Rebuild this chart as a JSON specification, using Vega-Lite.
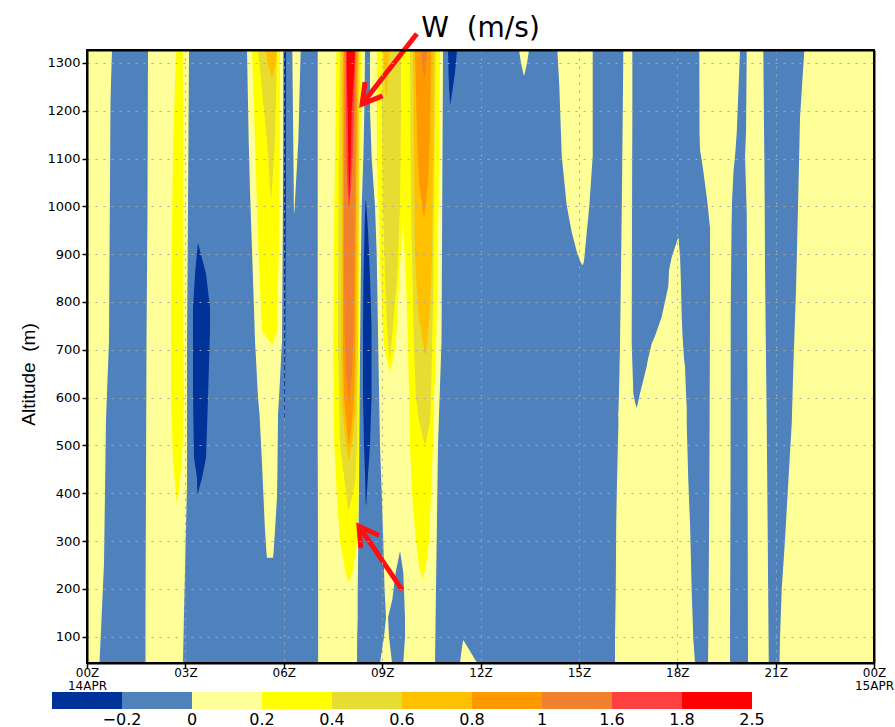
{
"$schema": "https://vega.github.io/schema/vega-lite/v6.json",
"background": "white",
"padding": {"left": 18, "top": 13, "right": 0, "bottom": 0},
"spacing": -19,
"config": {"font": "DejaVu Sans", "axis": {"labelColor": "black", "tickColor": "black", "domainColor": "black", "titleColor": "black"}},
"datasets": {
"field": [
{"r":"A","lev":3,"alt":1327,"x1":0,"x2":0.762},{"r":"A","lev":3,"alt":1221,"x1":0,"x2":0.717},{"r":"A","lev":3,"alt":719,"x1":0,"x2":0.671},{"r":"A","lev":3,"alt":552,"x1":0,"x2":0.579},{"r":"A","lev":3,"alt":253,"x1":0,"x2":0.518},{"r":"A","lev":3,"alt":113,"x1":0,"x2":0.427},{"r":"A","lev":3,"alt":45,"x1":0,"x2":0.381},
{"r":"B","lev":3,"alt":1327,"x1":1.860,"x2":3.111},{"r":"B","lev":3,"alt":1000,"x1":1.845,"x2":3.080},{"r":"B","lev":3,"alt":719,"x1":1.815,"x2":3.050},{"r":"B","lev":3,"alt":420,"x1":1.799,"x2":3.050},{"r":"B","lev":3,"alt":150,"x1":1.784,"x2":2.958},{"r":"B","lev":3,"alt":45,"x1":1.784,"x2":2.928},
{"r":"B4","lev":4,"alt":1327,"x1":2.714,"x2":2.928},{"r":"B4","lev":4,"alt":1116,"x1":2.623,"x2":2.928},{"r":"B4","lev":4,"alt":802,"x1":2.562,"x2":2.928},{"r":"B4","lev":4,"alt":593,"x1":2.562,"x2":2.958},{"r":"B4","lev":4,"alt":468,"x1":2.623,"x2":2.897},{"r":"B4","lev":4,"alt":378,"x1":2.739,"x2":2.751},
{"r":"C","lev":1,"alt":922,"x1":3.379,"x2":3.391},{"r":"C","lev":1,"alt":859,"x1":3.294,"x2":3.629},{"r":"C","lev":1,"alt":788,"x1":3.233,"x2":3.751},{"r":"C","lev":1,"alt":740,"x1":3.233,"x2":3.751},{"r":"C","lev":1,"alt":600,"x1":3.233,"x2":3.690},{"r":"C","lev":1,"alt":474,"x1":3.263,"x2":3.629},{"r":"C","lev":1,"alt":432,"x1":3.355,"x2":3.507},{"r":"C","lev":1,"alt":399,"x1":3.364,"x2":3.376},
{"r":"D3","lev":3,"alt":1327,"x1":4.880,"x2":6.008},{"r":"D3","lev":3,"alt":1137,"x1":4.931,"x2":5.993},{"r":"D3","lev":3,"alt":1032,"x1":4.971,"x2":5.978},{"r":"D3","lev":3,"alt":928,"x1":5.023,"x2":5.968},{"r":"D3","lev":3,"alt":719,"x1":5.124,"x2":5.947},{"r":"D3","lev":3,"alt":600,"x1":5.215,"x2":5.856},{"r":"D3","lev":3,"alt":566,"x1":5.261,"x2":5.825},{"r":"D3","lev":3,"alt":462,"x1":5.337,"x2":5.810},{"r":"D3","lev":3,"alt":391,"x1":5.383,"x2":5.794},{"r":"D3","lev":3,"alt":322,"x1":5.428,"x2":5.733},{"r":"D3","lev":3,"alt":275,"x1":5.474,"x2":5.688},{"r":"D3","lev":3,"alt":265,"x1":5.489,"x2":5.672},
{"r":"D4","lev":4,"alt":1327,"x1":5.032,"x2":5.886},{"r":"D4","lev":4,"alt":1137,"x1":5.124,"x2":5.877},{"r":"D4","lev":4,"alt":928,"x1":5.215,"x2":5.856},{"r":"D4","lev":4,"alt":740,"x1":5.337,"x2":5.794},{"r":"D4","lev":4,"alt":712,"x1":5.627,"x2":5.657},
{"r":"D5","lev":5,"alt":1327,"x1":5.215,"x2":5.794},{"r":"D5","lev":5,"alt":1137,"x1":5.489,"x2":5.733},{"r":"D5","lev":5,"alt":1018,"x1":5.605,"x2":5.621},
{"r":"D6","lev":6,"alt":1327,"x1":5.459,"x2":5.794},{"r":"D6","lev":6,"alt":1300,"x1":5.505,"x2":5.764},{"r":"D6","lev":6,"alt":1269,"x1":5.636,"x2":5.648},
{"r":"D1","lev":1,"alt":1327,"x1":5.993,"x2":6.069},{"r":"D1","lev":1,"alt":1032,"x1":6.002,"x2":6.063},{"r":"D1","lev":1,"alt":802,"x1":6.008,"x2":6.051},{"r":"D1","lev":1,"alt":552,"x1":6.020,"x2":6.035},
{"r":"E","lev":3,"alt":1327,"x1":6.261,"x2":6.517},{"r":"E","lev":3,"alt":1137,"x1":6.291,"x2":6.444},{"r":"E","lev":3,"alt":1050,"x1":6.303,"x2":6.374},{"r":"E","lev":3,"alt":986,"x1":6.310,"x2":6.322},
{"r":"FH","lev":3,"alt":1327,"x1":7.036,"x2":10.857},{"r":"FH","lev":3,"alt":719,"x1":7.036,"x2":10.811},{"r":"FH","lev":3,"alt":500,"x1":7.036,"x2":10.704},{"r":"FH","lev":3,"alt":200,"x1":7.048,"x2":10.643},{"r":"FH","lev":3,"alt":45,"x1":7.048,"x2":10.613},
{"r":"F4","lev":4,"alt":1327,"x1":7.609,"x2":8.371},{"r":"F4","lev":4,"alt":1000,"x1":7.542,"x2":8.326},{"r":"F4","lev":4,"alt":700,"x1":7.512,"x2":8.310},{"r":"F4","lev":4,"alt":500,"x1":7.542,"x2":8.295},{"r":"F4","lev":4,"alt":400,"x1":7.615,"x2":8.280},{"r":"F4","lev":4,"alt":300,"x1":7.716,"x2":8.234},{"r":"F4","lev":4,"alt":240,"x1":7.868,"x2":8.112},{"r":"F4","lev":4,"alt":215,"x1":7.960,"x2":7.990},
{"r":"F5","lev":5,"alt":1327,"x1":7.716,"x2":8.310},{"r":"F5","lev":5,"alt":1000,"x1":7.670,"x2":8.295},{"r":"F5","lev":5,"alt":700,"x1":7.655,"x2":8.265},{"r":"F5","lev":5,"alt":500,"x1":7.716,"x2":8.234},{"r":"F5","lev":5,"alt":420,"x1":7.868,"x2":8.173},{"r":"F5","lev":5,"alt":365,"x1":7.960,"x2":7.990},
{"r":"F6","lev":6,"alt":1327,"x1":7.777,"x2":8.280},{"r":"F6","lev":6,"alt":900,"x1":7.762,"x2":8.234},{"r":"F6","lev":6,"alt":700,"x1":7.746,"x2":8.219},{"r":"F6","lev":6,"alt":580,"x1":7.777,"x2":8.189},{"r":"F6","lev":6,"alt":520,"x1":7.868,"x2":8.112},{"r":"F6","lev":6,"alt":470,"x1":7.975,"x2":7.990},
{"r":"F7","lev":7,"alt":1327,"x1":7.822,"x2":8.249},{"r":"F7","lev":7,"alt":900,"x1":7.807,"x2":8.189},{"r":"F7","lev":7,"alt":700,"x1":7.807,"x2":8.173},{"r":"F7","lev":7,"alt":600,"x1":7.838,"x2":8.143},{"r":"F7","lev":7,"alt":550,"x1":7.899,"x2":8.082},{"r":"F7","lev":7,"alt":500,"x1":7.975,"x2":7.990},
{"r":"F8","lev":8,"alt":1327,"x1":7.853,"x2":8.219},{"r":"F8","lev":8,"alt":1100,"x1":7.838,"x2":8.173},{"r":"F8","lev":8,"alt":900,"x1":7.838,"x2":8.158},{"r":"F8","lev":8,"alt":750,"x1":7.853,"x2":8.128},{"r":"F8","lev":8,"alt":650,"x1":7.899,"x2":8.082},{"r":"F8","lev":8,"alt":590,"x1":7.975,"x2":7.990},
{"r":"F9","lev":9,"alt":1327,"x1":7.899,"x2":8.189},{"r":"F9","lev":9,"alt":1200,"x1":7.899,"x2":8.143},{"r":"F9","lev":9,"alt":1100,"x1":7.914,"x2":8.097},{"r":"F9","lev":9,"alt":1040,"x1":7.945,"x2":8.051},{"r":"F9","lev":9,"alt":1000,"x1":7.975,"x2":8.005},
{"r":"F10","lev":10,"alt":1327,"x1":7.920,"x2":8.173},{"r":"F10","lev":10,"alt":1280,"x1":7.920,"x2":8.143},{"r":"F10","lev":10,"alt":1200,"x1":7.948,"x2":8.073},{"r":"F10","lev":10,"alt":1100,"x1":7.969,"x2":8.042},{"r":"F10","lev":10,"alt":1040,"x1":7.984,"x2":8.014},{"r":"F10","lev":10,"alt":1020,"x1":7.990,"x2":7.999},
{"r":"G","lev":2,"alt":1327,"x1":8.478,"x2":8.631},{"r":"G","lev":2,"alt":1200,"x1":8.457,"x2":8.631},{"r":"G","lev":2,"alt":1100,"x1":8.426,"x2":8.682},{"r":"G","lev":2,"alt":1000,"x1":8.377,"x2":8.783},{"r":"G","lev":2,"alt":900,"x1":8.356,"x2":8.835},{"r":"G","lev":2,"alt":700,"x1":8.326,"x2":8.884},{"r":"G","lev":2,"alt":500,"x1":8.304,"x2":8.936},{"r":"G","lev":2,"alt":400,"x1":8.295,"x2":8.988},{"r":"G","lev":2,"alt":300,"x1":8.274,"x2":9.036},{"r":"G","lev":2,"alt":200,"x1":8.256,"x2":9.073},{"r":"G","lev":2,"alt":140,"x1":8.256,"x2":9.119},{"r":"G","lev":2,"alt":100,"x1":8.240,"x2":9.058},{"r":"G","lev":2,"alt":45,"x1":8.234,"x2":8.936},
{"r":"W","lev":2,"alt":277,"x1":9.539,"x2":9.551},{"r":"W","lev":2,"alt":235,"x1":9.414,"x2":9.646},{"r":"W","lev":2,"alt":178,"x1":9.311,"x2":9.677},{"r":"W","lev":2,"alt":140,"x1":9.180,"x2":9.698},{"r":"W","lev":2,"alt":100,"x1":9.210,"x2":9.698},{"r":"W","lev":2,"alt":45,"x1":9.302,"x2":9.646},
{"r":"H4a","lev":4,"alt":1327,"x1":8.835,"x2":9.668},{"r":"H4a","lev":4,"alt":1100,"x1":8.844,"x2":9.668},{"r":"H4a","lev":4,"alt":960,"x1":8.905,"x2":9.637},{"r":"H4a","lev":4,"alt":850,"x1":8.951,"x2":9.515},{"r":"H4a","lev":4,"alt":750,"x1":9.012,"x2":9.454},{"r":"H4a","lev":4,"alt":700,"x1":9.073,"x2":9.393},{"r":"H4a","lev":4,"alt":655,"x1":9.235,"x2":9.250},
{"r":"H4b","lev":4,"alt":1327,"x1":9.546,"x2":10.766},{"r":"H4b","lev":4,"alt":1000,"x1":9.607,"x2":10.720},{"r":"H4b","lev":4,"alt":960,"x1":9.637,"x2":10.704},{"r":"H4b","lev":4,"alt":850,"x1":9.729,"x2":10.689},{"r":"H4b","lev":4,"alt":700,"x1":9.790,"x2":10.643},{"r":"H4b","lev":4,"alt":600,"x1":9.820,"x2":10.582},{"r":"H4b","lev":4,"alt":500,"x1":9.851,"x2":10.552},{"r":"H4b","lev":4,"alt":400,"x1":9.912,"x2":10.491},{"r":"H4b","lev":4,"alt":300,"x1":10.033,"x2":10.430},{"r":"H4b","lev":4,"alt":250,"x1":10.125,"x2":10.338},{"r":"H4b","lev":4,"alt":220,"x1":10.226,"x2":10.241},
{"r":"H5a","lev":5,"alt":1327,"x1":9.027,"x2":9.576},{"r":"H5a","lev":5,"alt":1200,"x1":8.997,"x2":9.576},{"r":"H5a","lev":5,"alt":1000,"x1":9.027,"x2":9.546},{"r":"H5a","lev":5,"alt":850,"x1":9.088,"x2":9.454},{"r":"H5a","lev":5,"alt":750,"x1":9.149,"x2":9.332},{"r":"H5a","lev":5,"alt":680,"x1":9.219,"x2":9.235},
{"r":"H6a","lev":6,"alt":1327,"x1":9.027,"x2":9.210},{"r":"H6a","lev":6,"alt":1270,"x1":9.073,"x2":9.180},{"r":"H6a","lev":6,"alt":1230,"x1":9.125,"x2":9.137},
{"r":"H5b","lev":5,"alt":1327,"x1":9.851,"x2":10.643},{"r":"H5b","lev":5,"alt":1000,"x1":9.881,"x2":10.582},{"r":"H5b","lev":5,"alt":800,"x1":9.942,"x2":10.552},{"r":"H5b","lev":5,"alt":700,"x1":9.973,"x2":10.521},{"r":"H5b","lev":5,"alt":600,"x1":10.033,"x2":10.491},{"r":"H5b","lev":5,"alt":550,"x1":10.125,"x2":10.460},{"r":"H5b","lev":5,"alt":503,"x1":10.293,"x2":10.323},
{"r":"H6b","lev":6,"alt":1327,"x1":9.942,"x2":10.582},{"r":"H6b","lev":6,"alt":1100,"x1":9.973,"x2":10.552},{"r":"H6b","lev":6,"alt":900,"x1":10.003,"x2":10.521},{"r":"H6b","lev":6,"alt":780,"x1":10.094,"x2":10.460},{"r":"H6b","lev":6,"alt":690,"x1":10.308,"x2":10.338},
{"r":"H7b","lev":7,"alt":1327,"x1":10.003,"x2":10.491},{"r":"H7b","lev":7,"alt":1150,"x1":10.064,"x2":10.460},{"r":"H7b","lev":7,"alt":1050,"x1":10.125,"x2":10.399},{"r":"H7b","lev":7,"alt":980,"x1":10.262,"x2":10.293},
{"r":"H8b","lev":8,"alt":1327,"x1":10.186,"x2":10.369},{"r":"H8b","lev":8,"alt":1300,"x1":10.216,"x2":10.338},{"r":"H8b","lev":8,"alt":1270,"x1":10.277,"x2":10.293},
{"r":"I","lev":1,"alt":1012,"x1":8.493,"x2":8.509},{"r":"I","lev":1,"alt":950,"x1":8.463,"x2":8.570},{"r":"I","lev":1,"alt":850,"x1":8.432,"x2":8.631},{"r":"I","lev":1,"alt":750,"x1":8.417,"x2":8.676},{"r":"I","lev":1,"alt":600,"x1":8.417,"x2":8.676},{"r":"I","lev":1,"alt":500,"x1":8.448,"x2":8.631},{"r":"I","lev":1,"alt":440,"x1":8.478,"x2":8.570},{"r":"I","lev":1,"alt":376,"x1":8.499,"x2":8.515},
{"r":"J","lev":1,"alt":1327,"x1":11.009,"x2":11.284},{"r":"J","lev":1,"alt":1280,"x1":11.025,"x2":11.223},{"r":"J","lev":1,"alt":1250,"x1":11.040,"x2":11.162},{"r":"J","lev":1,"alt":1215,"x1":11.070,"x2":11.086},
{"r":"K","lev":3,"alt":92,"x1":11.467,"x2":11.482},{"r":"K","lev":3,"alt":70,"x1":11.421,"x2":11.680},{"r":"K","lev":3,"alt":45,"x1":11.375,"x2":11.894},
{"r":"R1","lev":3,"alt":1327,"x1":13.175,"x2":13.480},{"r":"R1","lev":3,"alt":1300,"x1":13.236,"x2":13.419},{"r":"R1","lev":3,"alt":1274,"x1":13.321,"x2":13.337},
{"r":"R2","lev":3,"alt":1327,"x1":14.343,"x2":15.422},{"r":"R2","lev":3,"alt":1250,"x1":14.404,"x2":15.422},{"r":"R2","lev":3,"alt":1106,"x1":14.477,"x2":15.422},{"r":"R2","lev":3,"alt":1002,"x1":14.629,"x2":15.319},{"r":"R2","lev":3,"alt":946,"x1":14.782,"x2":15.240},{"r":"R2","lev":3,"alt":906,"x1":14.934,"x2":15.187},{"r":"R2","lev":3,"alt":886,"x1":15.035,"x2":15.157},{"r":"R2","lev":3,"alt":878,"x1":15.096,"x2":15.127},
{"r":"S1","lev":3,"alt":1327,"x1":16.356,"x2":16.630},{"r":"S1","lev":3,"alt":1186,"x1":16.337,"x2":16.630},{"r":"S1","lev":3,"alt":986,"x1":16.307,"x2":16.621},{"r":"S1","lev":3,"alt":713,"x1":16.255,"x2":16.611},{"r":"S1","lev":3,"alt":609,"x1":16.224,"x2":16.660},{"r":"S1","lev":3,"alt":590,"x1":16.215,"x2":16.712},{"r":"S1","lev":3,"alt":577,"x1":16.209,"x2":16.773},{"r":"S1","lev":3,"alt":560,"x1":16.205,"x2":16.773},
{"r":"P2","lev":3,"alt":934,"x1":18.024,"x2":18.039},{"r":"P2","lev":3,"alt":894,"x1":17.832,"x2":18.085},{"r":"P2","lev":3,"alt":866,"x1":17.749,"x2":18.100},{"r":"P2","lev":3,"alt":833,"x1":17.728,"x2":18.115},{"r":"P2","lev":3,"alt":769,"x1":17.527,"x2":18.137},{"r":"P2","lev":3,"alt":729,"x1":17.322,"x2":18.161},{"r":"P2","lev":3,"alt":713,"x1":17.222,"x2":18.176},{"r":"P2","lev":3,"alt":681,"x1":17.109,"x2":18.207},{"r":"P2","lev":3,"alt":665,"x1":17.069,"x2":18.237},{"r":"P2","lev":3,"alt":609,"x1":16.865,"x2":18.268},{"r":"P2","lev":3,"alt":577,"x1":16.764,"x2":18.289},{"r":"P2","lev":3,"alt":570,"x1":16.205,"x2":18.289},{"r":"P2","lev":3,"alt":545,"x1":16.205,"x2":18.289},{"r":"P2","lev":3,"alt":425,"x1":16.163,"x2":18.338},{"r":"P2","lev":3,"alt":336,"x1":16.139,"x2":18.390},{"r":"P2","lev":3,"alt":192,"x1":16.124,"x2":18.442},{"r":"P2","lev":3,"alt":96,"x1":16.102,"x2":18.490},{"r":"P2","lev":3,"alt":45,"x1":16.102,"x2":18.542},
{"r":"S3","lev":3,"alt":1327,"x1":18.673,"x2":19.915},{"r":"S3","lev":3,"alt":1154,"x1":18.679,"x2":19.814},{"r":"S3","lev":3,"alt":1118,"x1":18.695,"x2":19.777},{"r":"S3","lev":3,"alt":1106,"x1":18.725,"x2":19.762},{"r":"S3","lev":3,"alt":1074,"x1":18.795,"x2":19.716},{"r":"S3","lev":3,"alt":1010,"x1":18.917,"x2":19.671},{"r":"S3","lev":3,"alt":954,"x1":19.000,"x2":19.655},{"r":"S3","lev":3,"alt":785,"x1":19.000,"x2":19.631},{"r":"S3","lev":3,"alt":417,"x1":18.979,"x2":19.625},{"r":"S3","lev":3,"alt":96,"x1":18.948,"x2":19.609},{"r":"S3","lev":3,"alt":45,"x1":18.939,"x2":19.609},
{"r":"S4","lev":3,"alt":1327,"x1":20.119,"x2":20.625},{"r":"S4","lev":3,"alt":1154,"x1":20.098,"x2":20.647},{"r":"S4","lev":3,"alt":1106,"x1":20.067,"x2":20.656},{"r":"S4","lev":3,"alt":986,"x1":20.119,"x2":20.668},{"r":"S4","lev":3,"alt":866,"x1":20.128,"x2":20.677},{"r":"S4","lev":3,"alt":545,"x1":20.143,"x2":20.729},{"r":"S4","lev":3,"alt":304,"x1":20.149,"x2":20.760},{"r":"S4","lev":3,"alt":45,"x1":20.158,"x2":20.790},
{"r":"S5","lev":3,"alt":1327,"x1":21.876,"x2":24},{"r":"S5","lev":3,"alt":1242,"x1":21.796,"x2":24},{"r":"S5","lev":3,"alt":1186,"x1":21.744,"x2":24},{"r":"S5","lev":3,"alt":1026,"x1":21.692,"x2":24},{"r":"S5","lev":3,"alt":825,"x1":21.622,"x2":24},{"r":"S5","lev":3,"alt":665,"x1":21.540,"x2":24},{"r":"S5","lev":3,"alt":545,"x1":21.491,"x2":24},{"r":"S5","lev":3,"alt":425,"x1":21.388,"x2":24},{"r":"S5","lev":3,"alt":304,"x1":21.287,"x2":24},{"r":"S5","lev":3,"alt":200,"x1":21.186,"x2":24},{"r":"S5","lev":3,"alt":96,"x1":21.134,"x2":24},{"r":"S5","lev":3,"alt":45,"x1":21.119,"x2":24}
],
"arrows": [
{"id":1,"part":"tail","x1":10.06,"alt":1361},{"id":1,"part":"tip","x1":8.39,"alt":1214},
{"id":2,"part":"tail","x1":9.61,"alt":198},{"id":2,"part":"tip","x1":8.295,"alt":331}
],
"bar": [
{"lev":1,"lo":0,"hi":1,"lab":"−0.2"},{"lev":2,"lo":1,"hi":2,"lab":"0"},{"lev":3,"lo":2,"hi":3,"lab":"0.2"},{"lev":4,"lo":3,"hi":4,"lab":"0.4"},{"lev":5,"lo":4,"hi":5,"lab":"0.6"},{"lev":6,"lo":5,"hi":6,"lab":"0.8"},{"lev":7,"lo":6,"hi":7,"lab":"1"},{"lev":8,"lo":7,"hi":8,"lab":"1.6"},{"lev":9,"lo":8,"hi":9,"lab":"1.8"},{"lev":10,"lo":9,"hi":10,"lab":"2.5"}
]
},
"vconcat": [
{
"width": 787, "height": 613,
"view": {"fill": "#4f81bd", "stroke": "black", "strokeWidth": 2},
"title": {"text": "W\u00a0\u00a0(m/s)", "font": "DejaVu Sans", "fontSize": 28, "fontWeight": "normal", "color": "black", "anchor": "middle", "frame": "group", "offset": -19},
"resolve": {"axis": {"x": "independent", "y": "independent"}},
"layer": [
{
"encoding": {
 "x": {"field": "x1", "type": "quantitative", "stack": null, "scale": {"domain": [0, 24], "nice": false, "zero": false},
   "axis": {"values": [0,3,6,9,12,15,18,21,24], "labelExpr": "datum.value == 0 ? ['00Z','14APR'] : datum.value == 24 ? ['00Z','15APR'] : (datum.value < 10 ? '0' : '') + datum.value + 'Z'", "title": null, "labelFont": "DejaVu Sans", "labelFontSize": 12, "labelPadding": -1, "labelLineHeight": 13, "labelOverlap": false, "labelFlush": false, "tickSize": 5, "tickWidth": 1.5, "domainWidth": 2, "grid": true, "gridColor": "#a8a8a8", "gridDash": [2, 6], "gridWidth": 1, "zindex": 1}},
 "y": {"field": "alt", "type": "quantitative", "scale": {"domain": [45, 1327], "nice": false, "zero": false},
   "axis": {"values": [100,200,300,400,500,600,700,800,900,1000,1100,1200,1300], "format": "d", "title": "Altitude\u00a0\u00a0(m)", "titleFont": "Liberation Sans", "titleFontSize": 19, "titleFontWeight": "normal", "titlePadding": 8, "titleY": 324, "labelFont": "DejaVu Sans", "labelFontSize": 13, "labelPadding": 2, "tickSize": 5, "tickWidth": 1.5, "domainWidth": 2, "grid": true, "gridColor": "#a8a8a8", "gridDash": [2, 6], "gridWidth": 1, "zindex": 1}}
},
"layer": [
 {"data": {"name": "field"}, "transform": [{"filter": "datum.lev == 3"}], "mark": {"type": "area", "orient": "horizontal", "clip": true}, "encoding": {"x2": {"field": "x2"}, "detail": {"field": "r"}, "color": {"field": "lev", "type": "ordinal", "scale": {"domain": [1,2,3,4,5,6,7,8,9,10], "range": ["#003399","#4f81bd","#ffff99","#ffff00","#e6dc32","#ffc000","#ff9900","#f0822d","#ff4040","#ff0000"]}, "legend": null}}},
 {"data": {"name": "field"}, "transform": [{"filter": "datum.lev == 4"}], "mark": {"type": "area", "orient": "horizontal", "clip": true}, "encoding": {"x2": {"field": "x2"}, "detail": {"field": "r"}, "color": {"field": "lev", "type": "ordinal", "scale": {"domain": [1,2,3,4,5,6,7,8,9,10], "range": ["#003399","#4f81bd","#ffff99","#ffff00","#e6dc32","#ffc000","#ff9900","#f0822d","#ff4040","#ff0000"]}, "legend": null}}},
 {"data": {"name": "field"}, "transform": [{"filter": "datum.lev == 5"}], "mark": {"type": "area", "orient": "horizontal", "clip": true}, "encoding": {"x2": {"field": "x2"}, "detail": {"field": "r"}, "color": {"field": "lev", "type": "ordinal", "scale": {"domain": [1,2,3,4,5,6,7,8,9,10], "range": ["#003399","#4f81bd","#ffff99","#ffff00","#e6dc32","#ffc000","#ff9900","#f0822d","#ff4040","#ff0000"]}, "legend": null}}},
 {"data": {"name": "field"}, "transform": [{"filter": "datum.lev == 6"}], "mark": {"type": "area", "orient": "horizontal", "clip": true}, "encoding": {"x2": {"field": "x2"}, "detail": {"field": "r"}, "color": {"field": "lev", "type": "ordinal", "scale": {"domain": [1,2,3,4,5,6,7,8,9,10], "range": ["#003399","#4f81bd","#ffff99","#ffff00","#e6dc32","#ffc000","#ff9900","#f0822d","#ff4040","#ff0000"]}, "legend": null}}},
 {"data": {"name": "field"}, "transform": [{"filter": "datum.lev == 7"}], "mark": {"type": "area", "orient": "horizontal", "clip": true}, "encoding": {"x2": {"field": "x2"}, "detail": {"field": "r"}, "color": {"field": "lev", "type": "ordinal", "scale": {"domain": [1,2,3,4,5,6,7,8,9,10], "range": ["#003399","#4f81bd","#ffff99","#ffff00","#e6dc32","#ffc000","#ff9900","#f0822d","#ff4040","#ff0000"]}, "legend": null}}},
 {"data": {"name": "field"}, "transform": [{"filter": "datum.lev == 8"}], "mark": {"type": "area", "orient": "horizontal", "clip": true}, "encoding": {"x2": {"field": "x2"}, "detail": {"field": "r"}, "color": {"field": "lev", "type": "ordinal", "scale": {"domain": [1,2,3,4,5,6,7,8,9,10], "range": ["#003399","#4f81bd","#ffff99","#ffff00","#e6dc32","#ffc000","#ff9900","#f0822d","#ff4040","#ff0000"]}, "legend": null}}},
 {"data": {"name": "field"}, "transform": [{"filter": "datum.lev == 9"}], "mark": {"type": "area", "orient": "horizontal", "clip": true}, "encoding": {"x2": {"field": "x2"}, "detail": {"field": "r"}, "color": {"field": "lev", "type": "ordinal", "scale": {"domain": [1,2,3,4,5,6,7,8,9,10], "range": ["#003399","#4f81bd","#ffff99","#ffff00","#e6dc32","#ffc000","#ff9900","#f0822d","#ff4040","#ff0000"]}, "legend": null}}},
 {"data": {"name": "field"}, "transform": [{"filter": "datum.lev == 10"}], "mark": {"type": "area", "orient": "horizontal", "clip": true}, "encoding": {"x2": {"field": "x2"}, "detail": {"field": "r"}, "color": {"field": "lev", "type": "ordinal", "scale": {"domain": [1,2,3,4,5,6,7,8,9,10], "range": ["#003399","#4f81bd","#ffff99","#ffff00","#e6dc32","#ffc000","#ff9900","#f0822d","#ff4040","#ff0000"]}, "legend": null}}},
 {"data": {"name": "field"}, "transform": [{"filter": "datum.lev == 2"}], "mark": {"type": "area", "orient": "horizontal", "clip": true}, "encoding": {"x2": {"field": "x2"}, "detail": {"field": "r"}, "color": {"field": "lev", "type": "ordinal", "scale": {"domain": [1,2,3,4,5,6,7,8,9,10], "range": ["#003399","#4f81bd","#ffff99","#ffff00","#e6dc32","#ffc000","#ff9900","#f0822d","#ff4040","#ff0000"]}, "legend": null}}},
 {"data": {"name": "field"}, "transform": [{"filter": "datum.lev == 1"}], "mark": {"type": "area", "orient": "horizontal", "clip": true}, "encoding": {"x2": {"field": "x2"}, "detail": {"field": "r"}, "color": {"field": "lev", "type": "ordinal", "scale": {"domain": [1,2,3,4,5,6,7,8,9,10], "range": ["#003399","#4f81bd","#ffff99","#ffff00","#e6dc32","#ffc000","#ff9900","#f0822d","#ff4040","#ff0000"]}, "legend": null}}},
 {"data": {"name": "arrows"}, "mark": {"type": "line", "strokeWidth": 5, "color": "#ff1010", "clip": false}, "encoding": {"detail": {"field": "id"}}},
 {"data": {"name": "arrows"}, "transform": [{"filter": "datum.part == 'tip' && datum.id == 1"}], "mark": {"type": "point", "shape": "M -1.7 -1 L 0 0 L -1.7 1", "angle": 128, "size": 500, "filled": false, "strokeWidth": 5, "strokeJoin": "miter", "color": "#ff1010", "opacity": 1, "clip": false}, "encoding": {}},
 {"data": {"name": "arrows"}, "transform": [{"filter": "datum.part == 'tip' && datum.id == 2"}], "mark": {"type": "point", "shape": "M -1.7 -1 L 0 0 L -1.7 1", "angle": 235, "size": 500, "filled": false, "strokeWidth": 5, "strokeJoin": "miter", "color": "#ff1010", "opacity": 1, "clip": false}, "encoding": {}}
]
},
{
 "data": {"values": [{}]},
 "mark": {"type": "rect", "filled": false, "color": "black", "strokeWidth": 2, "clip": false},
 "encoding": {
  "x": {"datum": 0, "type": "quantitative", "scale": {"domain": [0, 24], "nice": false, "zero": false}, "axis": {"orient": "top", "labels": false, "ticks": false, "grid": false, "title": null, "domain": true, "domainWidth": 2, "domainColor": "black", "zindex": 1}},
  "x2": {"datum": 24},
  "y": {"datum": 45, "type": "quantitative", "scale": {"domain": [45, 1327], "nice": false, "zero": false}, "axis": {"orient": "right", "labels": false, "ticks": false, "grid": false, "title": null, "domain": true, "domainWidth": 2, "domainColor": "black", "zindex": 1}},
  "y2": {"datum": 1327}
 }
}
]
},
{
"width": 787, "height": 17,
"view": {"stroke": null},
"data": {"name": "bar"},
"encoding": {"x": {"field": "lo", "type": "quantitative", "scale": {"domain": [0.5, 11.743], "nice": false, "zero": false}, "axis": null}},
"layer": [
 {"mark": {"type": "rect"}, "encoding": {"x2": {"field": "hi"}, "color": {"field": "lev", "type": "ordinal", "scale": {"domain": [1,2,3,4,5,6,7,8,9,10], "range": ["#003399","#4f81bd","#ffff99","#ffff00","#e6dc32","#ffc000","#ff9900","#f0822d","#ff4040","#ff0000"]}, "legend": null}}},
 {"mark": {"type": "text", "baseline": "top", "dy": 11, "fontSize": 16, "font": "DejaVu Sans", "color": "black"}, "encoding": {"x": {"field": "hi", "type": "quantitative", "scale": {"domain": [0.5, 11.743], "nice": false, "zero": false}, "axis": null}, "text": {"field": "lab"}}}
]
}
]
}
